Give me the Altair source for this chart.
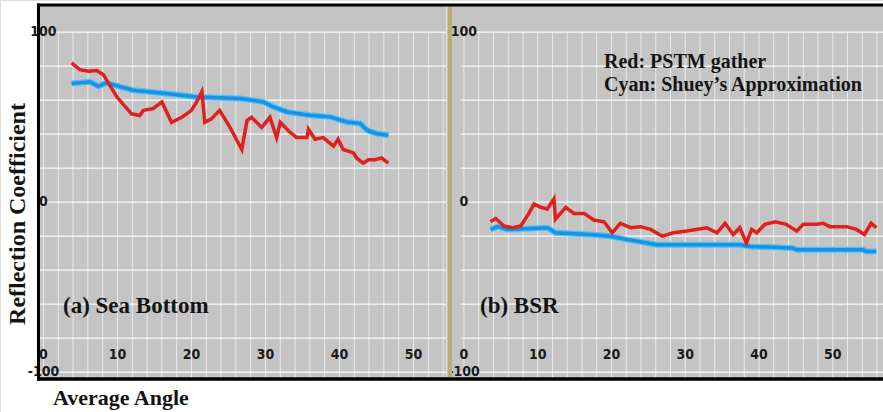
import altair as alt
import pandas as pd

# ---------------- data ----------------
sea_red_angle = [3.8, 4.9, 6.1, 7.2, 8.1, 9.9, 11.9, 13.0, 13.5, 14.8, 16.0, 17.3, 18.7, 20.0, 20.7,
                 21.4, 21.8, 22.7, 23.8, 25.2, 26.8, 27.5, 28.1, 29.5, 30.6, 31.5, 32.0, 33.1, 34.2,
                 35.6, 35.8, 36.7, 37.8, 39.2, 39.8, 40.5, 41.9, 42.3, 43.2, 43.9, 44.8, 45.7, 46.6]
sea_red_value = [82, 78, 77, 77.5, 75, 62, 52, 51, 54, 55, 59, 47, 50, 54, 59,
                 65, 47, 49, 54, 44, 31, 48, 50, 44, 50, 38, 47, 42, 38,
                 38, 43, 37, 38, 33, 37, 31, 29, 26, 23, 25, 25, 26, 23]

sea_cyan_angle = [3.8, 6.3, 7.4, 8.5, 12.1, 16.6, 20.7, 26.6, 29.7, 31.1, 32.9, 36.0, 38.7, 41.0,
                  42.8, 43.7, 45.0, 46.6]
sea_cyan_value = [69.8, 70.8, 68.2, 70.2, 65.9, 63.9, 61.9, 61.0, 59.0, 56.0, 53.1, 51.2, 50.2, 47.2,
                  46.3, 42.4, 40.4, 39.4]

bsr_red_angle = [3.6, 4.3, 5.4, 6.6, 7.7, 8.8, 9.5, 10.4, 11.3, 12.2, 12.4, 13.8, 14.9, 16.3, 17.6,
                 19.0, 20.1, 21.2, 22.6, 23.9, 25.3, 26.9, 28.4, 30.2, 32.9, 34.3, 35.4, 36.5, 37.4,
                 38.3, 39.0, 39.7, 40.8, 42.2, 43.7, 45.1, 46.0, 47.8, 48.7, 49.6, 51.9, 53.2, 54.3,
                 55.2, 55.9]
bsr_red_value = [-11.5, -9.5, -14, -15, -14, -6.6, -1, -3, -4, 2, -10, -3, -6.6, -6.6, -10.5,
                 -11.5, -18, -12.4, -15, -14.4, -16, -20, -18, -17, -15, -18, -12.4, -19, -15,
                 -24, -16, -18, -13, -11.5, -13, -17, -13, -13, -12.4, -14.4, -14.4, -16, -19,
                 -12.4, -15]

bsr_cyan_angle = [3.6, 4.6, 5.9, 11.3, 12.4, 17.2, 19.9, 22.1, 26.2, 37.4, 38.8, 44.6, 45.1, 54.1,
                  54.6, 55.9]
bsr_cyan_value = [-16, -14.4, -16, -15, -18, -19, -20, -22, -25, -25, -26, -27, -28, -28, -29, -29]

x_tick_labels = [0, 10, 20, 30, 40, 50]
y_tick_values = [100, 0, -100]
y_tick_labels = ["100", "0", "-100"]
h_grid = list(range(-100, 101, 20))
v_grid_left = list(range(0, 55, 2))
v_grid_right = list(range(0, 57, 2))

# ---------------- layout / style ----------------
W, H = 883, 412
YD, YR = [-104, 116], [379, 5]
LD, LR = [-0.47, 54.53], [40, 447]
RD, RR = [-2.3, 56.81], [447, 883]
GRAY = "#c4c4c4"
RED = "#e0201c"
BLUE = "#1c90e6"
CYAN = "#49c6f2"
SERIF = "Liberation Serif"
TICKFONT = "Liberation Sans Narrow, DejaVu Sans Condensed, Liberation Serif"

one = pd.DataFrame({"_": [0]})


def xenc(dom, rng, field="a"):
    return alt.X(f"{field}:Q", scale=alt.Scale(domain=dom, range=rng), axis=None)


def xdat(v, dom, rng):
    return alt.XDatum(v, type="quantitative", scale=alt.Scale(domain=dom, range=rng), axis=None)


def yenc(field="v"):
    return alt.Y(f"{field}:Q", scale=alt.Scale(domain=YD, range=YR), axis=None)


def ydat(v):
    return alt.YDatum(v, type="quantitative", scale=alt.Scale(domain=YD, range=YR), axis=None)


def panel(dom, rng, vgrid, red_a, red_v, cyan_a, cyan_v):
    layers = []
    # background
    layers.append(alt.Chart(one).mark_rect(color=GRAY).encode(
        x=alt.value(rng[0]), x2=alt.value(rng[1]), y=alt.value(YR[1]), y2=alt.value(YR[0])))
    # horizontal grid
    hg = pd.DataFrame({"v": h_grid})
    layers.append(alt.Chart(hg).mark_rule(color="white", strokeWidth=1.2, opacity=0.9).encode(
        y=yenc("v"), x=xdat(max(dom[0], -0.47), dom, rng), x2=alt.X2Datum(dom[1])))
    # vertical grid
    vg = pd.DataFrame({"a": vgrid})
    layers.append(alt.Chart(vg).mark_rule(color="white", strokeWidth=1, opacity=0.65).encode(
        x=xenc(dom, rng), y=ydat(100), y2=alt.Y2Datum(-104)))
    # cyan (Shuey)
    cdf = pd.DataFrame({"a": cyan_a, "v": cyan_v})
    layers.append(alt.Chart(cdf).mark_line(color=CYAN, strokeWidth=6).encode(
        x=xenc(dom, rng), y=yenc()))
    layers.append(alt.Chart(cdf).mark_line(color=BLUE, strokeWidth=3.5).encode(
        x=xenc(dom, rng), y=yenc()))
    # red (PSTM)
    rdf = pd.DataFrame({"a": red_a, "v": red_v})
    layers.append(alt.Chart(rdf).mark_line(color=RED, strokeWidth=3.5, strokeJoin="miter").encode(
        x=xenc(dom, rng), y=yenc()))
    # x tick labels (inside plot)
    xl = pd.DataFrame({"a": x_tick_labels, "t": [str(v) for v in x_tick_labels]})
    layers.append(alt.Chart(xl).mark_text(font=TICKFONT, fontSize=14, fontWeight="bold", color="#1a1a1a",
                                          baseline="middle", align="center").encode(
        x=xenc(dom, rng), y=ydat(-90), text="t:N"))
    # y tick labels
    yl = pd.DataFrame({"v": y_tick_values, "t": y_tick_labels})
    layers.append(alt.Chart(yl).mark_text(font=TICKFONT, fontSize=14, fontWeight="bold", color="#1a1a1a",
                                          baseline="middle", align="center").encode(
        x=xdat(0, dom, rng), y=yenc("v"), text="t:N"))
    return layers


left = panel(LD, LR, v_grid_left, sea_red_angle, sea_red_value, sea_cyan_angle, sea_cyan_value)
right = panel(RD, RR, v_grid_right, bsr_red_angle, bsr_red_value, bsr_cyan_angle, bsr_cyan_value)


def txt(s, x, y, size, align="left", angle=0, baseline="alphabetic"):
    return alt.Chart(one).mark_text(text=s, font=SERIF, fontSize=size, fontWeight="bold", color="#141414",
                                    align=align, baseline=baseline, angle=angle).encode(
        x=alt.value(x), y=alt.value(y))


def rule(x, x2, y, y2, color, w):
    return alt.Chart(one).mark_rule(color=color, strokeWidth=w).encode(
        x=alt.value(x), x2=alt.value(x2), y=alt.value(y), y2=alt.value(y2))


decor = [
    txt("(a) Sea Bottom", 63, 313, 23),
    txt("(b) BSR", 480, 313, 23),
    txt("Red: PSTM gather", 604, 68, 20),
    txt("Cyan: Shuey\u2019s Approximation", 604, 91, 20),
    txt("Average Angle", 53, 405, 22),
    txt("Reflection Coefficient", 18, 214, 24, align="center", angle=270, baseline="middle"),
    rule(446.5, 446.5, 5, 379, "#dedef0", 1),
    rule(450, 450, 5, 379, "#b7ae72", 4),
    rule(37, 883, 5, 5, "black", 3),
    rule(37, 883, 379, 379, "black", 3.5),
    rule(38.5, 38.5, 3.5, 380.5, "black", 3),
]

chart = alt.layer(*left, *right, *decor).resolve_scale(x="independent").properties(
    width=W, height=H, padding=0, autosize=alt.AutoSizeParams(type="none")
).configure_view(stroke=None).configure(background="white")

chart.save("out.html", embed_options={"renderer": "svg", "actions": False})
